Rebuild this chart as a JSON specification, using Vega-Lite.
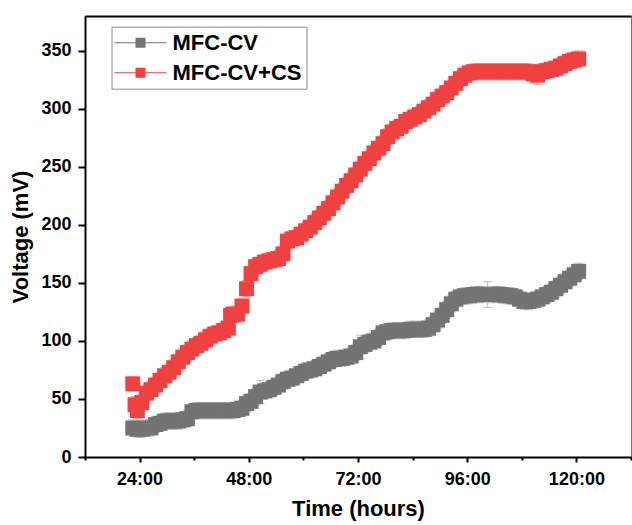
{
  "$schema": "https://vega.github.io/schema/vega-lite/v6.json",
  "width": 546,
  "height": 441,
  "autosize": {"type": "none"},
  "padding": {"left": 85, "top": 16, "right": 1, "bottom": 68},
  "config": {
    "font": "Liberation Sans",
    "view": {"stroke": "#777777", "strokeWidth": 1},
    "axis": {"grid": false},
    "legend": {
      "title": null,
      "orient": "none", "legendX": 26.5, "legendY": 10.7,
      "strokeColor": "#888888", "fillColor": "white", "padding": 5,
      "symbolType": "M-5.2,-0.1H5.2V0.1H-5.2Z M-1,-1H1V1H-1Z",
      "symbolSize": 100, "symbolOffset": 13, "symbolStrokeWidth": 0, "symbolOpacity": 1,
      "labelFont": "Liberation Sans", "labelFontSize": 22, "labelFontWeight": "bold", "labelColor": "black",
      "labelOffset": 21, "rowPadding": 8, "labelLimit": 300
    }
  },
  "datasets": {
    "main": [
      {"t":22.5,"v":25,"e":7,"s":"MFC-CV"},{"t":23.5,"v":24,"e":7,"s":"MFC-CV"},{"t":24.5,"v":24,"e":7,"s":"MFC-CV"},{"t":25.5,"v":25,"e":7,"s":"MFC-CV"},{"t":26.5,"v":25,"e":7,"s":"MFC-CV"},
      {"t":27.5,"v":28,"e":7,"s":"MFC-CV"},{"t":28.5,"v":29,"e":7,"s":"MFC-CV"},{"t":29.5,"v":31,"e":7,"s":"MFC-CV"},{"t":30.5,"v":31,"e":7,"s":"MFC-CV"},{"t":31.5,"v":31,"e":7,"s":"MFC-CV"},
      {"t":32.5,"v":31,"e":7,"s":"MFC-CV"},{"t":33.5,"v":32,"e":7,"s":"MFC-CV"},{"t":34.5,"v":33,"e":7,"s":"MFC-CV"},{"t":35.5,"v":39,"e":7,"s":"MFC-CV"},{"t":36.5,"v":40,"e":7,"s":"MFC-CV"},
      {"t":37.5,"v":40,"e":7,"s":"MFC-CV"},{"t":38.5,"v":40,"e":7,"s":"MFC-CV"},{"t":39.5,"v":40,"e":7,"s":"MFC-CV"},{"t":40.5,"v":40,"e":7,"s":"MFC-CV"},{"t":41.5,"v":40,"e":7,"s":"MFC-CV"},
      {"t":42.5,"v":40,"e":7,"s":"MFC-CV"},{"t":43.5,"v":40,"e":7,"s":"MFC-CV"},{"t":44.5,"v":40,"e":7,"s":"MFC-CV"},{"t":45.5,"v":41,"e":7,"s":"MFC-CV"},{"t":46.5,"v":42,"e":7,"s":"MFC-CV"},
      {"t":47.5,"v":46,"e":7,"s":"MFC-CV"},{"t":48.5,"v":48,"e":7,"s":"MFC-CV"},{"t":49.5,"v":52,"e":7,"s":"MFC-CV"},{"t":50.5,"v":56,"e":10,"s":"MFC-CV"},{"t":51.5,"v":57,"e":7,"s":"MFC-CV"},
      {"t":52.5,"v":58,"e":7,"s":"MFC-CV"},{"t":53.5,"v":60,"e":7,"s":"MFC-CV"},{"t":54.5,"v":62,"e":7,"s":"MFC-CV"},{"t":55.5,"v":65,"e":7,"s":"MFC-CV"},{"t":56.5,"v":67,"e":7,"s":"MFC-CV"},
      {"t":57.5,"v":68,"e":7,"s":"MFC-CV"},{"t":58.5,"v":70,"e":7,"s":"MFC-CV"},{"t":59.5,"v":72,"e":7,"s":"MFC-CV"},{"t":60.5,"v":74,"e":7,"s":"MFC-CV"},{"t":61.5,"v":75,"e":7,"s":"MFC-CV"},
      {"t":62.5,"v":76,"e":7,"s":"MFC-CV"},{"t":63.5,"v":78,"e":7,"s":"MFC-CV"},{"t":64.5,"v":80,"e":7,"s":"MFC-CV"},{"t":65.5,"v":82,"e":7,"s":"MFC-CV"},{"t":66.5,"v":84,"e":7,"s":"MFC-CV"},
      {"t":67.5,"v":85,"e":7,"s":"MFC-CV"},{"t":68.5,"v":85,"e":7,"s":"MFC-CV"},{"t":69.5,"v":86,"e":7,"s":"MFC-CV"},{"t":70.5,"v":87,"e":7,"s":"MFC-CV"},{"t":71.5,"v":90,"e":7,"s":"MFC-CV"},
      {"t":72.5,"v":95,"e":10,"s":"MFC-CV"},{"t":73.5,"v":97,"e":7,"s":"MFC-CV"},{"t":74.5,"v":99,"e":7,"s":"MFC-CV"},{"t":75.5,"v":100,"e":7,"s":"MFC-CV"},{"t":76.5,"v":103,"e":7,"s":"MFC-CV"},
      {"t":77.5,"v":107,"e":7,"s":"MFC-CV"},{"t":78.5,"v":108,"e":7,"s":"MFC-CV"},{"t":79.5,"v":109,"e":7,"s":"MFC-CV"},{"t":80.5,"v":109,"e":7,"s":"MFC-CV"},{"t":81.5,"v":109,"e":7,"s":"MFC-CV"},
      {"t":82.5,"v":109,"e":7,"s":"MFC-CV"},{"t":83.5,"v":110,"e":7,"s":"MFC-CV"},{"t":84.5,"v":110,"e":7,"s":"MFC-CV"},{"t":85.5,"v":110,"e":7,"s":"MFC-CV"},{"t":86.5,"v":110,"e":7,"s":"MFC-CV"},
      {"t":87.5,"v":111,"e":7,"s":"MFC-CV"},{"t":88.5,"v":114,"e":7,"s":"MFC-CV"},{"t":89.5,"v":118,"e":7,"s":"MFC-CV"},{"t":90.5,"v":122,"e":7,"s":"MFC-CV"},{"t":91.5,"v":127,"e":7,"s":"MFC-CV"},
      {"t":92.5,"v":132,"e":7,"s":"MFC-CV"},{"t":93.5,"v":136,"e":7,"s":"MFC-CV"},{"t":94.5,"v":138,"e":7,"s":"MFC-CV"},{"t":95.5,"v":139,"e":7,"s":"MFC-CV"},{"t":96.5,"v":139,"e":7,"s":"MFC-CV"},
      {"t":97.5,"v":140,"e":7,"s":"MFC-CV"},{"t":98.5,"v":140,"e":7,"s":"MFC-CV"},{"t":99.5,"v":140,"e":7,"s":"MFC-CV"},{"t":100.5,"v":140,"e":11,"s":"MFC-CV"},{"t":101.5,"v":140,"e":7,"s":"MFC-CV"},
      {"t":102.5,"v":140,"e":7,"s":"MFC-CV"},{"t":103.5,"v":140,"e":7,"s":"MFC-CV"},{"t":104.5,"v":139,"e":7,"s":"MFC-CV"},{"t":105.5,"v":139,"e":7,"s":"MFC-CV"},{"t":106.5,"v":138,"e":7,"s":"MFC-CV"},
      {"t":107.5,"v":136,"e":7,"s":"MFC-CV"},{"t":108.5,"v":134,"e":7,"s":"MFC-CV"},{"t":109.5,"v":134,"e":7,"s":"MFC-CV"},{"t":110.5,"v":135,"e":7,"s":"MFC-CV"},{"t":111.5,"v":136,"e":7,"s":"MFC-CV"},
      {"t":112.5,"v":138,"e":7,"s":"MFC-CV"},{"t":113.5,"v":140,"e":7,"s":"MFC-CV"},{"t":114.5,"v":142,"e":7,"s":"MFC-CV"},{"t":115.5,"v":145,"e":7,"s":"MFC-CV"},{"t":116.5,"v":148,"e":7,"s":"MFC-CV"},
      {"t":117.5,"v":151,"e":7,"s":"MFC-CV"},{"t":118.5,"v":154,"e":7,"s":"MFC-CV"},{"t":119.5,"v":157,"e":7,"s":"MFC-CV"},{"t":120.5,"v":160,"e":7,"s":"MFC-CV"},

      {"t":22.5,"v":63,"e":6,"s":"MFC-CV+CS"},{"t":23.0,"v":45,"e":7,"s":"MFC-CV+CS"},{"t":23.5,"v":40,"e":7,"s":"MFC-CV+CS"},{"t":24.5,"v":47,"e":7,"s":"MFC-CV+CS"},{"t":25.5,"v":55,"e":7,"s":"MFC-CV+CS"},
      {"t":26.5,"v":58,"e":7,"s":"MFC-CV+CS"},{"t":27.5,"v":62,"e":7,"s":"MFC-CV+CS"},{"t":28.5,"v":66,"e":7,"s":"MFC-CV+CS"},{"t":29.5,"v":70,"e":7,"s":"MFC-CV+CS"},{"t":30.5,"v":73,"e":7,"s":"MFC-CV+CS"},
      {"t":31.5,"v":77,"e":7,"s":"MFC-CV+CS"},{"t":32.5,"v":82,"e":7,"s":"MFC-CV+CS"},{"t":33.5,"v":86,"e":7,"s":"MFC-CV+CS"},{"t":34.5,"v":90,"e":7,"s":"MFC-CV+CS"},{"t":35.5,"v":93,"e":7,"s":"MFC-CV+CS"},
      {"t":36.5,"v":96,"e":7,"s":"MFC-CV+CS"},{"t":37.5,"v":98,"e":7,"s":"MFC-CV+CS"},{"t":38.5,"v":101,"e":7,"s":"MFC-CV+CS"},{"t":39.5,"v":104,"e":7,"s":"MFC-CV+CS"},{"t":40.5,"v":106,"e":7,"s":"MFC-CV+CS"},
      {"t":41.5,"v":107,"e":7,"s":"MFC-CV+CS"},{"t":42.5,"v":109,"e":7,"s":"MFC-CV+CS"},{"t":43.5,"v":111,"e":7,"s":"MFC-CV+CS"},{"t":44.0,"v":122,"e":7,"s":"MFC-CV+CS"},{"t":44.5,"v":123,"e":7,"s":"MFC-CV+CS"},
      {"t":45.5,"v":123,"e":7,"s":"MFC-CV+CS"},{"t":46.5,"v":130,"e":7,"s":"MFC-CV+CS"},{"t":47.5,"v":145,"e":7,"s":"MFC-CV+CS"},{"t":48.5,"v":158,"e":7,"s":"MFC-CV+CS"},{"t":49.5,"v":164,"e":7,"s":"MFC-CV+CS"},
      {"t":50.5,"v":166,"e":7,"s":"MFC-CV+CS"},{"t":51.5,"v":168,"e":7,"s":"MFC-CV+CS"},{"t":52.5,"v":169,"e":7,"s":"MFC-CV+CS"},{"t":53.5,"v":170,"e":7,"s":"MFC-CV+CS"},{"t":54.5,"v":171,"e":7,"s":"MFC-CV+CS"},
      {"t":55.5,"v":175,"e":7,"s":"MFC-CV+CS"},{"t":56.5,"v":186,"e":7,"s":"MFC-CV+CS"},{"t":57.5,"v":188,"e":7,"s":"MFC-CV+CS"},{"t":58.5,"v":189,"e":7,"s":"MFC-CV+CS"},{"t":59.5,"v":192,"e":7,"s":"MFC-CV+CS"},
      {"t":60.5,"v":195,"e":7,"s":"MFC-CV+CS"},{"t":61.5,"v":198,"e":7,"s":"MFC-CV+CS"},{"t":62.5,"v":202,"e":7,"s":"MFC-CV+CS"},{"t":63.5,"v":206,"e":7,"s":"MFC-CV+CS"},{"t":64.5,"v":210,"e":7,"s":"MFC-CV+CS"},
      {"t":65.5,"v":214,"e":7,"s":"MFC-CV+CS"},{"t":66.5,"v":219,"e":7,"s":"MFC-CV+CS"},{"t":67.5,"v":224,"e":7,"s":"MFC-CV+CS"},{"t":68.5,"v":229,"e":7,"s":"MFC-CV+CS"},{"t":69.5,"v":234,"e":7,"s":"MFC-CV+CS"},
      {"t":70.5,"v":238,"e":7,"s":"MFC-CV+CS"},{"t":71.5,"v":243,"e":7,"s":"MFC-CV+CS"},{"t":72.5,"v":248,"e":7,"s":"MFC-CV+CS"},{"t":73.5,"v":253,"e":7,"s":"MFC-CV+CS"},{"t":74.5,"v":257,"e":7,"s":"MFC-CV+CS"},
      {"t":75.5,"v":262,"e":7,"s":"MFC-CV+CS"},{"t":76.5,"v":266,"e":7,"s":"MFC-CV+CS"},{"t":77.5,"v":270,"e":7,"s":"MFC-CV+CS"},{"t":78.5,"v":276,"e":7,"s":"MFC-CV+CS"},{"t":79.5,"v":280,"e":7,"s":"MFC-CV+CS"},
      {"t":80.5,"v":283,"e":7,"s":"MFC-CV+CS"},{"t":81.5,"v":285,"e":10,"s":"MFC-CV+CS"},{"t":82.5,"v":289,"e":7,"s":"MFC-CV+CS"},{"t":83.5,"v":291,"e":7,"s":"MFC-CV+CS"},{"t":84.5,"v":293,"e":7,"s":"MFC-CV+CS"},
      {"t":85.5,"v":295,"e":7,"s":"MFC-CV+CS"},{"t":86.5,"v":298,"e":7,"s":"MFC-CV+CS"},{"t":87.5,"v":301,"e":7,"s":"MFC-CV+CS"},{"t":88.5,"v":304,"e":7,"s":"MFC-CV+CS"},{"t":89.5,"v":308,"e":7,"s":"MFC-CV+CS"},
      {"t":90.5,"v":311,"e":7,"s":"MFC-CV+CS"},{"t":91.5,"v":314,"e":7,"s":"MFC-CV+CS"},{"t":92.5,"v":318,"e":7,"s":"MFC-CV+CS"},{"t":93.5,"v":322,"e":7,"s":"MFC-CV+CS"},{"t":94.5,"v":326,"e":7,"s":"MFC-CV+CS"},
      {"t":95.5,"v":329,"e":7,"s":"MFC-CV+CS"},{"t":96.5,"v":331,"e":7,"s":"MFC-CV+CS"},{"t":97.5,"v":332,"e":7,"s":"MFC-CV+CS"},{"t":98.5,"v":332,"e":7,"s":"MFC-CV+CS"},{"t":99.5,"v":332,"e":7,"s":"MFC-CV+CS"},
      {"t":100.5,"v":332,"e":7,"s":"MFC-CV+CS"},{"t":101.5,"v":332,"e":7,"s":"MFC-CV+CS"},{"t":102.5,"v":332,"e":7,"s":"MFC-CV+CS"},{"t":103.5,"v":332,"e":7,"s":"MFC-CV+CS"},{"t":104.5,"v":332,"e":7,"s":"MFC-CV+CS"},
      {"t":105.5,"v":332,"e":7,"s":"MFC-CV+CS"},{"t":106.5,"v":332,"e":7,"s":"MFC-CV+CS"},{"t":107.5,"v":332,"e":7,"s":"MFC-CV+CS"},{"t":108.5,"v":332,"e":7,"s":"MFC-CV+CS"},{"t":109.5,"v":332,"e":7,"s":"MFC-CV+CS"},
      {"t":110.5,"v":330,"e":8,"s":"MFC-CV+CS"},{"t":111.5,"v":329,"e":8,"s":"MFC-CV+CS"},{"t":112.5,"v":332,"e":7,"s":"MFC-CV+CS"},{"t":113.5,"v":333,"e":7,"s":"MFC-CV+CS"},{"t":114.5,"v":334,"e":7,"s":"MFC-CV+CS"},
      {"t":115.5,"v":335,"e":7,"s":"MFC-CV+CS"},{"t":116.5,"v":337,"e":7,"s":"MFC-CV+CS"},{"t":117.5,"v":339,"e":7,"s":"MFC-CV+CS"},{"t":118.5,"v":341,"e":7,"s":"MFC-CV+CS"},{"t":119.5,"v":342,"e":7,"s":"MFC-CV+CS"},
      {"t":120.5,"v":343,"e":7,"s":"MFC-CV+CS"}
    ]
  },
  "data": {"name": "main"},
  "resolve": {"axis": {"x": "independent"}},
  "layer": [
    {
      "mark": {"type": "errorbar", "ticks": {"size": 9}, "opacity": 0.45, "thickness": 1},
      "encoding": {
        "x": {
          "field": "t", "type": "quantitative",
          "scale": {"domain": [12, 132], "nice": false, "zero": false},
          "axis": {
            "orient": "bottom",
            "values": [12, 24, 36, 48, 60, 72, 84, 96, 108, 120, 132],
            "labelExpr": "datum.value % 24 == 0 ? datum.value + ':00' : ''",
            "title": "Time (hours)",
            "titleFont": "Liberation Sans", "titleFontSize": 22, "titleFontWeight": "bold", "titleColor": "black", "titlePadding": 10,
            "labelFont": "Liberation Sans", "labelFontSize": 18, "labelFontWeight": "bold", "labelColor": "black", "labelPadding": 8,
            "domainColor": "black", "domainWidth": 2,
            "tickColor": "black", "tickWidth": 2,
            "tickSize": {"condition": {"test": "datum.value % 24 == 0", "value": 5}, "value": 3},
            "labelFlush": false, "labelOverlap": false
          }
        },
        "y": {
          "field": "v", "type": "quantitative",
          "scale": {"domain": [0, 380], "nice": false},
          "axis": {
            "values": [0, 25, 50, 75, 100, 125, 150, 175, 200, 225, 250, 275, 300, 325, 350, 375],
            "labelExpr": "datum.value % 50 == 0 ? datum.label : ''",
            "title": "Voltage (mV)",
            "titleFont": "Liberation Sans", "titleFontSize": 22, "titleFontWeight": "bold", "titleColor": "black", "titlePadding": 8,
            "labelFont": "Liberation Sans", "labelFontSize": 18, "labelFontWeight": "bold", "labelColor": "black", "labelPadding": 7,
            "domainColor": "black", "domainWidth": 2,
            "tickColor": "black", "tickWidth": 2,
            "tickSize": {"condition": {"test": "datum.value % 50 == 0", "value": 7}, "value": 4},
            "labelFlush": false, "labelOverlap": false
          }
        },
        "yError": {"field": "e"},
        "color": {"field": "s", "type": "nominal", "scale": {"domain": ["MFC-CV", "MFC-CV+CS"], "range": ["#737373", "#f04141"]}}
      }
    },
    {
      "mark": {"type": "point", "shape": "square", "filled": true, "size": 225, "opacity": 1},
      "encoding": {
        "x": {
          "field": "t", "type": "quantitative",
          "scale": {"domain": [12, 132], "nice": false, "zero": false},
          "axis": {"orient": "top", "labels": false, "ticks": false, "title": null, "domainColor": "black", "domainWidth": 2}
        },
        "y": {"field": "v", "type": "quantitative"},
        "color": {
          "field": "s", "type": "nominal",
          "scale": {"domain": ["MFC-CV", "MFC-CV+CS"], "range": ["#737373", "#f04141"]}
        }
      }
    }
  ]
}
